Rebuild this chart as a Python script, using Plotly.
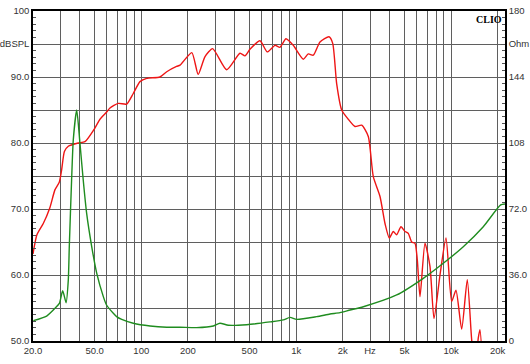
import math
import plotly.graph_objects as go

# SPL response (dB)
spl_freq = [20, 21.2, 23.3, 25.7, 27.7, 29.6, 30.6, 31.9, 33.8, 39.2, 43.3, 50.3, 54.1, 59.8, 62.8,
            71.1, 80.5, 88.8, 98.1, 108.4, 132, 146, 169, 178, 212, 233, 258, 289, 356, 434, 467,
            503, 584, 651, 730, 786, 860, 958, 1112, 1198, 1290, 1425, 1630, 1722, 1826, 1968,
            2170, 2398, 2649, 2922, 3148, 3478, 3746, 3995, 4236, 4457, 4750, 5042, 5296, 5570,
            5851, 6054, 6303, 6788, 7311, 7762, 8485, 9277, 10094, 10760, 11712, 12728, 13588,
            14270, 15000, 15372, 16000]
spl_db = [63.2, 66.1, 67.8, 70.2, 72.9, 74.1, 75.9, 78.7, 79.5, 80.0, 80.2, 82.3, 83.6, 84.7, 85.3,
          86.0, 85.9, 87.5, 89.3, 89.8, 90.0, 90.8, 91.6, 91.8, 93.7, 90.4, 93.1, 94.3, 91.1, 93.6, 93.2,
          94.2, 95.5, 93.8, 94.8, 94.5, 95.8, 94.8, 92.7, 93.5, 93.3, 95.3, 96.1, 95.1, 89.0, 85.0,
          83.6, 82.5, 82.7, 81.0, 74.9, 71.9, 67.8, 65.6, 66.6, 66.1, 67.3, 66.6, 66.3, 65.0,
          64.8, 62.3, 56.7, 64.8, 61.3, 53.4, 60.0, 65.6, 56.0, 57.7, 51.8, 59.3, 50.2,
          46.0, 50.5, 51.7, 46.0]

# Impedance (Ohm)
imp_freq = [20.1, 24.5, 27.7, 29.6, 31.1, 32.7, 33.8, 34.3, 35.5, 36.4, 38.3, 40.2, 42.2, 44.4,
            47.9, 51.6, 56.9, 59.8, 66, 69.3, 74.8, 88.8, 114, 146, 178, 228, 292, 322, 365, 479,
            678, 826, 912, 1008, 1357, 1654, 1918, 2226, 2714, 4457, 6618, 8910, 11996, 16150,
            20910, 22290]
imp_ohm = [11.1, 13.6, 17.8, 20.5, 27.4, 20.9, 33.3, 51.4, 87.8, 109.6, 126, 107.8, 87.8, 69.6,
           51.4, 36.9, 24.2, 19.5, 15.1, 13.3, 11.8, 9.7, 8.2, 7.5, 7.5, 7.3, 8.2, 9.7, 8.6, 8.9,
           10.4, 11.5, 12.9, 11.8, 13.3, 14.7, 15.5, 16.9, 18.7, 25.1, 34.2, 42.4, 51.4, 62.3,
           74.2, 74.7]

# Axis ticks
x_grid = [20, 30, 40, 50, 60, 70, 80, 90, 100, 200, 300, 400, 500, 600, 700, 800, 900,
          1000, 2000, 3000, 4000, 5000, 6000, 7000, 8000, 9000, 10000, 20000]
x_labels = {20: "20.0", 50: "50.0", 100: "100", 200: "200", 500: "500", 1000: "1k",
            2000: "2k", 3000: "Hz", 5000: "5k", 10000: "10k", 20000: "20k"}
y_left_vals = [50, 55, 60, 65, 70, 75, 80, 85, 90, 95, 100]
y_left_text = ["50.0", "", "60.0", "", "70.0", "", "80.0", "", "90.0", "dBSPL", "100"]
y_right_vals = [0, 18, 36, 54, 72, 90, 108, 126, 144, 162, 180]
y_right_text = ["0", "", "36.0", "", "72.0", "", "108", "", "144", "Ohm", "180"]

grid_col = "#5f5f5f"
font = dict(family="Liberation Sans, Arial", size=9.5, color="#333")

fig = go.Figure()
fig.add_trace(go.Scatter(x=imp_freq, y=imp_ohm, yaxis="y2", mode="lines",
                         line=dict(color="#1f8c1f", width=1.4, shape="spline", smoothing=0.6),
                         hoverinfo="skip"))
fig.add_trace(go.Scatter(x=spl_freq, y=spl_db, mode="lines",
                         line=dict(color="#ee1515", width=1.4, shape="spline", smoothing=0.6),
                         hoverinfo="skip"))

fig.update_layout(
    width=530, height=364,
    margin=dict(l=33, r=25, t=11, b=23, autoexpand=False),
    paper_bgcolor="white", plot_bgcolor="white",
    showlegend=False, font=font,
    xaxis=dict(type="log", range=[math.log10(20), math.log10(22300)],
               tickmode="array", tickvals=x_grid,
               ticktext=[x_labels.get(v, "") for v in x_grid],
               showgrid=True, gridcolor=grid_col, gridwidth=1.2,
               showline=True, linecolor="black", linewidth=1.5, mirror=True,
               ticks="", zeroline=False, tickfont=font, automargin=False),
    yaxis=dict(range=[50, 100], tickmode="array", tickvals=y_left_vals, ticktext=y_left_text,
               showgrid=True, gridcolor=grid_col, gridwidth=1.2,
               showline=True, linecolor="black", linewidth=1.5,
               ticks="inside", ticklen=4, tickcolor="#555",
               minor=dict(tickmode="linear", tick0=50, dtick=1, ticks="inside", ticklen=3,
                          tickcolor="#555", showgrid=False),
               zeroline=False, tickfont=font, automargin=False),
    yaxis2=dict(range=[0, 180], overlaying="y", side="right",
                tickmode="array", tickvals=y_right_vals, ticktext=y_right_text,
                showgrid=False, showline=True, linecolor="black", linewidth=1.5,
                ticks="inside", ticklen=4, tickcolor="#555",
                minor=dict(tickmode="linear", tick0=0, dtick=3.6, ticks="inside", ticklen=3,
                           tickcolor="#555", showgrid=False),
                zeroline=False, tickfont=font, automargin=False),
    annotations=[dict(text="<b>CLIO</b>", xref="paper", yref="paper", x=0.997, y=0.997,
                      xanchor="right", yanchor="top", showarrow=False,
                      font=dict(family="Liberation Serif, Times New Roman", size=10, color="black"))],
)

fig.write_html("out.html", config={"displayModeBar": False},
               post_script="document.body.style.margin='0';document.body.style.padding='0';")
